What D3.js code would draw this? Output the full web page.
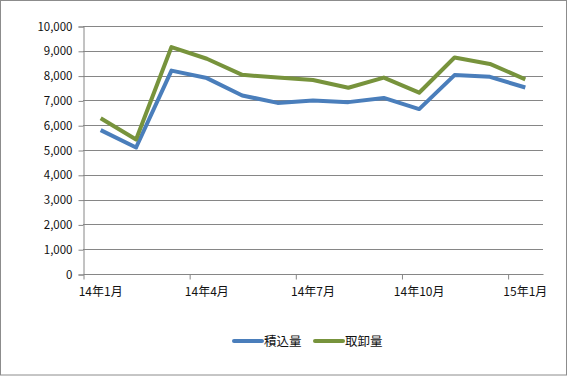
<!DOCTYPE html>
<html>
<head>
<meta charset="utf-8">
<script src="https://cdn.jsdelivr.net/npm/d3@7"></script>
<style>
  body { margin: 0; background: #fff; }
  text { font-family: "Noto Sans CJK JP", "DejaVu Sans", sans-serif; fill: #111; }
</style>
</head>
<body>
<div id="vis"></div>
<script>
const FRAME_WIDTH = 568;
const FRAME_HEIGHT = 376;
const MARGINS = {left: 83, right: 25, top: 26, bottom: 102};

// months Jan 2014 .. Jan 2015
const months = ["14年1月","14年2月","14年3月","14年4月","14年5月","14年6月","14年7月",
                "14年8月","14年9月","14年10月","14年11月","14年12月","15年1月"];
const loading = [5800, 5100, 8200, 7900, 7200, 6900, 7000, 6930, 7100, 6650, 8020, 7950, 7520];   // 積込量
const unloading = [6280, 5420, 9150, 8680, 8030, 7920, 7820, 7510, 7920, 7310, 8730, 8470, 7850]; // 取卸量
const seriesNames = ["積込量", "取卸量"];
const seriesColors = ["#4a7ebb", "#77933c"];
const yTicks = [0, 1000, 2000, 3000, 4000, 5000, 6000, 7000, 8000, 9000, 10000];
const xTickMonths = [0, 3, 6, 9, 12];

const VIS_WIDTH = FRAME_WIDTH - MARGINS.left - MARGINS.right;
const VIS_HEIGHT = FRAME_HEIGHT - MARGINS.top - MARGINS.bottom;

const svg = d3.select("#vis")
  .append("svg")
    .attr("width", FRAME_WIDTH)
    .attr("height", FRAME_HEIGHT);

// chart border
svg.append("rect")
  .attr("x", 0.5).attr("y", 0.5)
  .attr("width", 566).attr("height", 374.5)
  .attr("fill", "#fff")
  .attr("stroke", "#8c8c8c");

// month index scale (each month gets same width, points at mid-month)
const X_SCALE = d3.scaleLinear().domain([0, months.length]).range([MARGINS.left, MARGINS.left + VIS_WIDTH]);
const Y_SCALE = d3.scaleLinear().domain([0, 10000]).range([MARGINS.top + VIS_HEIGHT, MARGINS.top]);

// gridlines
svg.append("g")
  .selectAll("line")
  .data(yTicks.filter(d => d > 0))
  .enter()
  .append("line")
    .attr("x1", MARGINS.left).attr("x2", MARGINS.left + VIS_WIDTH)
    .attr("y1", d => Math.round(Y_SCALE(d)) + 0.5)
    .attr("y2", d => Math.round(Y_SCALE(d)) + 0.5)
    .attr("stroke", "#868686");

// y axis
const yAxis = svg.append("g")
  .attr("transform", "translate(" + (MARGINS.left + 0.5) + ",0.5)")
  .call(d3.axisLeft(Y_SCALE).tickValues(yTicks).tickSize(5).tickPadding(6)
        .tickFormat(d3.format(",")));
yAxis.selectAll("line, path").attr("stroke", "#868686");
yAxis.selectAll("text").attr("font-size", "11.5px").attr("fill", "#111")
  .style("font-family", "\"Noto Sans CJK JP\", sans-serif");

// x axis
const xAxis = svg.append("g")
  .attr("transform", "translate(0.5," + (Math.round(Y_SCALE(0)) + 0.5) + ")")
  .call(d3.axisBottom(X_SCALE).tickValues(xTickMonths).tickSize(5).tickFormat(""));
xAxis.select(".domain").attr("d", "M" + MARGINS.left + ",0H" + (MARGINS.left + VIS_WIDTH));
xAxis.selectAll("line, path").attr("stroke", "#868686");

svg.append("g")
  .selectAll("text")
  .data(xTickMonths)
  .enter()
  .append("text")
    .attr("x", d => X_SCALE(d + 0.5))
    .attr("y", Y_SCALE(0) + 22)
    .attr("text-anchor", "middle")
    .attr("font-size", "12px")
    .text(d => months[d]);

// lines
const line = d3.line()
  .x((d, i) => X_SCALE(i + 0.5))
  .y(d => Y_SCALE(d));

[loading, unloading].forEach((vals, k) => {
  svg.append("path")
    .datum(vals)
    .attr("d", line)
    .attr("fill", "none")
    .attr("stroke", seriesColors[k])
    .attr("stroke-width", 4)
    .attr("stroke-linejoin", "round");
});

// legend
const legend = svg.append("g")
  .selectAll("g")
  .data(seriesNames)
  .enter()
  .append("g")
    .attr("transform", (d, i) => "translate(" + (234 + i * 81) + ",341)");
legend.append("line")
  .attr("x1", 0).attr("x2", 28)
  .attr("stroke", (d, i) => seriesColors[i])
  .attr("stroke-width", 4)
  .attr("stroke-linecap", "round");
legend.append("text")
  .attr("x", 30).attr("y", 4.5)
  .attr("font-size", "12.5px")
  .text(d => d);
</script>
</body>
</html>
